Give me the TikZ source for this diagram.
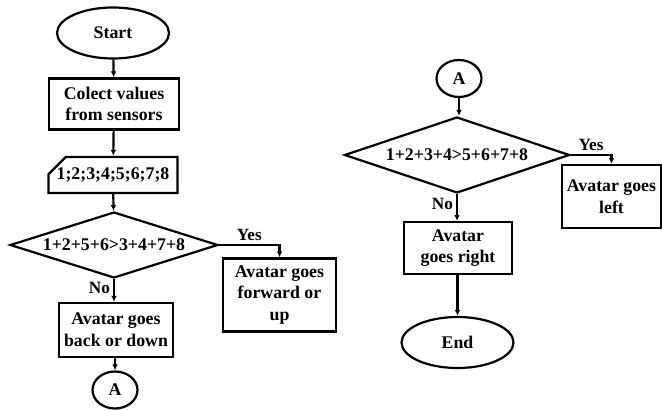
\documentclass[tikz,border=0pt]{standalone}
\usepackage{fontspec}
\setmainfont{Liberation Serif}
\usepackage{tikz}
\usepackage{xcolor}
\usetikzlibrary{shapes.geometric,shapes.misc,arrows.meta}
\definecolor{ink}{RGB}{0,0,0}

\begin{document}
\begin{tikzpicture}[x=0.5pt,y=-0.5pt,
    every node/.style={font=\fontsize{8.9}{10.8}\selectfont\bfseries, text=ink},
    terminal/.style={draw=ink, line width=1.1pt, ellipse, inner sep=0pt, minimum width=56pt, minimum height=25.5pt},
    connector/.style={draw=ink, line width=1.1pt, ellipse, inner sep=0pt, minimum width=22.5pt, minimum height=18.5pt},
    process/.style={draw=ink, line width=1.1pt, rectangle, align=center, inner sep=0pt},
    datain/.style={draw=ink, line width=1.1pt, chamfered rectangle, chamfered rectangle corners=north west,
        chamfered rectangle xsep=4pt, chamfered rectangle ysep=5pt, inner sep=0pt, minimum width=64.5pt, minimum height=18pt},
    decision/.style={draw=ink, line width=1.1pt, diamond, aspect=3, inner sep=0pt},
    flowarrow/.style={draw=ink, line width=1.1pt, -{Latex[length=3pt,width=2.8pt]}},
    branch/.style={font=\fontsize{8.6}{10}\selectfont\bfseries, inner sep=1.5pt}]
\useasboundingbox (0,0) rectangle (662,410);

% left part
\node[terminal] (start) at (113,33) {Start};
\node[process, minimum width=65pt, minimum height=25.5pt] (collect) at (114,104) {Colect values\\from sensors};
\node[datain] (values) at (113,175) {1;2;3;4;5;6;7;8};
\node[decision, minimum width=104pt, minimum height=33pt] (check1) at (114,245) {1+2+5+6>3+4+7+8};
\node[process, minimum width=56.5pt, minimum height=36.5pt] (fwd) at (279.5,295) {Avatar goes\\forward or\\up};
\node[process, minimum width=57pt, minimum height=27pt] (back) at (116,330) {Avatar goes\\back or down};
\node[connector] (conA1) at (115,390) {A};

\draw[flowarrow] (start) -- (collect);
\draw[flowarrow] (collect) -- (values);
\draw[flowarrow] (values) -- (check1);
\draw[flowarrow] (check1.east) -| (fwd.north) node[branch, pos=0.25, above] {Yes};
\draw[flowarrow] (check1.south) -- (check1.south |- back.north) node[branch, pos=0.38, left] {No};
\draw[flowarrow] (back.south -| conA1.north) -- (conA1.north);

% right part
\node[connector] (conA2) at (459,78.5) {A};
\node[decision, minimum width=112.5pt, minimum height=38pt] (check2) at (457,155) {1+2+3+4>5+6+7+8};
\node[process, minimum width=49.5pt, minimum height=31.5pt] (goleft) at (611.5,196.5) {Avatar goes\\left};
\node[process, minimum width=54pt, minimum height=26pt] (goright) at (458,248) {Avatar\\goes right};
\node[terminal] (finish) at (457.5,342.5) {End};

\draw[flowarrow] (conA2) -- (conA2 |- check2.north);
\draw[flowarrow] (check2.east) -| (goleft.north) node[branch, pos=0.25, above] {Yes};
\draw[flowarrow] (check2.south) -- (check2.south |- goright.north) node[branch, pos=0.38, left] {No};
\draw[flowarrow] (goright.south -| finish.north) -- (finish.north);
\end{tikzpicture}
\end{document}
